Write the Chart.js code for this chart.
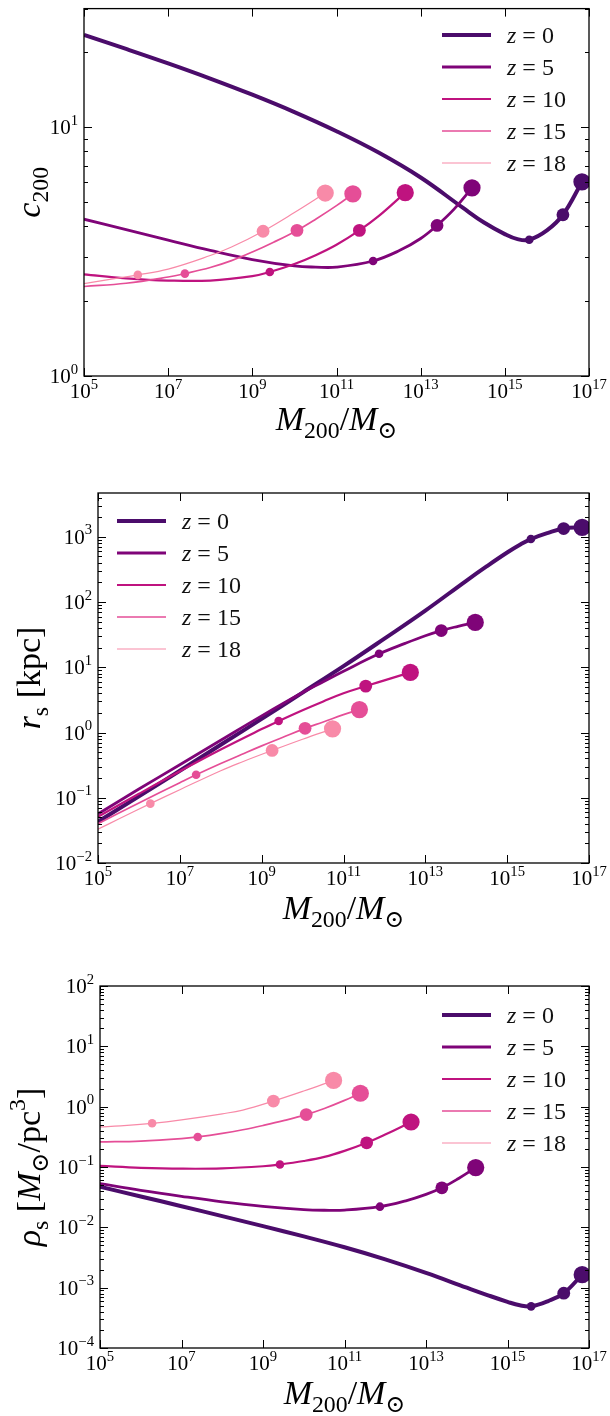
<!DOCTYPE html>
<html>
<head>
<meta charset="utf-8">
<script src="https://cdn.jsdelivr.net/npm/chart.js@4.4.1/dist/chart.umd.min.js"></script>
<style>
  html, body { margin: 0; padding: 0; background: #fff; }
  #wrap { position: relative; width: 610px; height: 1416px; overflow: hidden; }
  canvas { position: absolute; left: 0; }
</style>
</head>
<body>
<div id="wrap">
  <canvas id="cChart" width="610" height="472" style="top:0"></canvas>
  <canvas id="rsChart" width="610" height="472" style="top:472px"></canvas>
  <canvas id="rhoChart" width="610" height="472" style="top:944px"></canvas>
</div>
<script>
// ---- data ----
const redshifts = [0, 5, 10, 15, 18];

// halo mass M200 [M_sun] along each curve
const mass_z0 = [1e5, 1e6, 1e7, 1e8, 1e9, 1e10, 1e11, 1e12, 1e13, 1e14, 3.2e14, 1e15, 2e15, 3.8e15, 1e16, 2.4e16, 6.8e16];
const mass_z5 = [1e5, 1e6, 1e7, 1e8, 1e9, 1e10, 3.2e10, 1e11, 7.4e11, 3.2e12, 1e13, 2.45e13, 6.3e13, 1.66e14];
const mass_z10 = [1e5, 1e6, 1e7, 1e8, 1e9, 2.6e9, 1e10, 3.2e10, 1e11, 3.5e11, 1e12, 4.3e12];
const mass_z15 = [1e5, 1e6, 1e7, 2.5e7, 1e8, 3.2e8, 1e9, 3.2e9, 1.15e10, 3.2e10, 1e11, 2.45e11];
const mass_z18 = [1e5, 3.2e5, 1.9e6, 1e7, 1e8, 3.2e8, 1.8e9, 1e10, 5.4e10];

// masses carrying the small / medium / large dots
const markers_z0 = [3.8e15, 2.4e16, 6.8e16];
const markers_z5 = [7.4e11, 2.45e13, 1.66e14];
const markers_z10 = [2.6e9, 3.5e11, 4.3e12];
const markers_z15 = [2.5e7, 1.15e10, 2.45e11];
const markers_z18 = [1.9e6, 1.8e9, 5.4e10];

// concentration c200
const c_z0 = [23.5, 20.65, 18.07, 15.7, 13.52, 11.51, 9.64, 7.91, 6.28, 4.75, 4.14, 3.72, 3.55, 3.53, 3.85, 4.45, 6.03];
const c_z5 = [4.27, 3.88, 3.52, 3.2, 2.94, 2.77, 2.74, 2.74, 2.9, 3.2, 3.57, 4.03, 4.7, 5.71];
const c_z10 = [2.56, 2.47, 2.42, 2.42, 2.52, 2.62, 2.82, 3.06, 3.37, 3.85, 4.39, 5.46];
const c_z15 = [2.29, 2.36, 2.5, 2.58, 2.73, 2.91, 3.15, 3.45, 3.85, 4.27, 4.84, 5.4];
const c_z18 = [2.35, 2.43, 2.55, 2.69, 3.05, 3.3, 3.82, 4.54, 5.44];

// scale radius r_s [kpc]
const rs_z0 = [0.043, 0.105, 0.26, 0.65, 1.62, 4.1, 10.4, 27.5, 74, 212, 355, 575, 750, 925, 1150, 1340, 1400];
const rs_z5 = [0.0565, 0.136, 0.32, 0.76, 1.8, 4.1, 6.0, 8.7, 16.1, 23.3, 30.5, 36.6, 42.5, 48.8];
const rs_z10 = [0.051, 0.115, 0.255, 0.55, 1.13, 1.5, 2.2, 3.0, 4.0, 5.15, 6.3, 8.35];
const rs_z15 = [0.04, 0.083, 0.17, 0.225, 0.335, 0.46, 0.625, 0.84, 1.16, 1.45, 1.88, 2.25];
const rs_z18 = [0.033, 0.0472, 0.0813, 0.133, 0.26, 0.351, 0.531, 0.79, 1.14];

// scale density rho_s [M_sun / pc^3]
const rho_z0 = [0.047, 0.0325, 0.0224, 0.01535, 0.01047, 0.00708, 0.00468, 0.00295, 0.00176, 0.001, 0.000755, 0.000582, 0.00051, 0.00049, 0.0006, 0.00081, 0.00164];
const rho_z5 = [0.053, 0.0411, 0.0327, 0.0265, 0.0223, 0.0197, 0.0192, 0.0193, 0.022, 0.0275, 0.0351, 0.0452, 0.0646, 0.0977];
const rho_z10 = [0.104, 0.097, 0.0938, 0.0948, 0.1028, 0.11, 0.1256, 0.1469, 0.185, 0.252, 0.345, 0.557];
const rho_z15 = [0.26, 0.269, 0.295, 0.315, 0.361, 0.415, 0.488, 0.586, 0.739, 0.933, 1.27, 1.67];
const rho_z18 = [0.463, 0.48, 0.53, 0.605, 0.762, 0.879, 1.24, 1.82, 2.72];

// tick label exponents
const xTickExp = [5, 7, 9, 11, 13, 15, 17];
const cTickExp = [0, 1];
const rsTickExp = [-2, -1, 0, 1, 2, 3];
const rhoTickExp = [-4, -3, -2, -1, 0, 1, 2];

// ---- styling ----
const colors = ['#4b0c6b', '#7f0478', '#bf137f', '#e54e97', '#f88aa8'];
const lineWidths = [4, 2.8, 2.2, 1.7, 1.2];
const dotRadius = [4.3, 6.4, 8.6];
const FONT = '"Liberation Serif", "DejaVu Serif", serif';

const seriesMass = [mass_z0, mass_z5, mass_z10, mass_z15, mass_z18];
const seriesMarkers = [markers_z0, markers_z5, markers_z10, markers_z15, markers_z18];

function makeDatasets(valueLists) {
  return valueLists.map((vals, i) => ({
    label: 'z = ' + redshifts[i],
    data: seriesMass[i].map((m, j) => ({ x: m, y: vals[j] })),
    borderColor: colors[i],
    backgroundColor: colors[i],
    borderWidth: lineWidths[i],
    tension: 0.4,
    fill: false,
    pointRadius: ctx => {
      const k = ctx.raw ? seriesMarkers[i].indexOf(ctx.raw.x) : -1;
      return k < 0 ? 0 : dotRadius[k];
    },
    pointBorderWidth: 0,
    pointBorderColor: colors[i],
    pointBackgroundColor: colors[i],
    order: 4 - i,
    clip: 0
  }));
}

// mixed text: segments with italic / sub / sup
function drawRich(ctx, segs, x, y, size, align) {
  const fontOf = s => (s.it ? 'italic ' : '') + ((s.sub || s.sup) ? size * 0.7 : size) + 'px ' + FONT;
  let w = 0;
  segs.forEach(s => { ctx.font = fontOf(s); w += ctx.measureText(s.t).width; });
  let cx = align === 'center' ? x - w / 2 : align === 'right' ? x - w : x;
  ctx.textAlign = 'left';
  ctx.textBaseline = 'alphabetic';
  segs.forEach(s => {
    ctx.font = fontOf(s);
    const dy = s.sub ? size * 0.24 : s.sup ? -size * 0.45 : 0;
    ctx.fillText(s.t, cx, y + dy);
    cx += ctx.measureText(s.t).width;
  });
}

const expText = e => e < 0 ? '\u2212' + (-e) : String(e);

const decor = {
  id: 'decor',
  afterDatasetsDraw(chart, args, o) {
    const { ctx, chartArea: a } = chart;
    const x = chart.scales.x, y = chart.scales.y;
    ctx.save();
    ctx.fillStyle = '#000';
    ctx.strokeStyle = '#000';

    // inward ticks on all four sides
    ctx.lineWidth = 1;
    ctx.beginPath();
    xTickExp.forEach(e => {
      const px = Math.round(x.getPixelForValue(Math.pow(10, e))) + 0.5;
      ctx.moveTo(px, a.bottom); ctx.lineTo(px, a.bottom - 8);
      ctx.moveTo(px, a.top); ctx.lineTo(px, a.top + 8);
    });
    const lo = Math.floor(Math.log10(y.min)), hi = Math.ceil(Math.log10(y.max));
    for (let n = lo; n <= hi; n++) {
      for (let k = 1; k <= 9; k++) {
        const v = k * Math.pow(10, n);
        if (v < y.min * 0.999 || v > y.max * 1.001) continue;
        const py = Math.round(y.getPixelForValue(v)) + 0.5;
        const len = k === 1 ? 8 : 4;
        ctx.moveTo(a.left, py); ctx.lineTo(a.left + len, py);
        ctx.moveTo(a.right, py); ctx.lineTo(a.right - len, py);
      }
    }
    ctx.stroke();

    // frame
    ctx.lineWidth = 1.3;
    ctx.strokeRect(a.left, a.top, a.right - a.left, a.bottom - a.top);

    // tick labels
    xTickExp.forEach(e => {
      const px = x.getPixelForValue(Math.pow(10, e));
      drawRich(ctx, [{ t: '10' }, { t: expText(e), sup: true }], px, a.bottom + 22, 21, 'center');
    });
    o.yTickExp.forEach(e => {
      const py = y.getPixelForValue(Math.pow(10, e));
      drawRich(ctx, [{ t: '10' }, { t: expText(e), sup: true }], a.left - 6, py + 7, 21, 'right');
    });

    // axis titles
    drawRich(ctx, [{ t: 'M', it: true }, { t: '200', sub: true }, { t: '/' }, { t: 'M', it: true }, { t: '\u2299', sub: true }],
      (a.left + a.right) / 2, a.bottom + o.xTitleDy, 34, 'center');
    ctx.save();
    ctx.translate(40, (a.top + a.bottom) / 2);
    ctx.rotate(-Math.PI / 2);
    drawRich(ctx, o.yTitle, 0, 0, 34, 'center');
    ctx.restore();

    // legend
    redshifts.forEach((z, i) => {
      const ly = o.legendY + i * 32;
      ctx.strokeStyle = colors[i];
      ctx.lineWidth = lineWidths[i];
      ctx.beginPath();
      ctx.moveTo(o.legendX, ly); ctx.lineTo(o.legendX + 49, ly);
      ctx.stroke();
      ctx.fillStyle = '#111';
      drawRich(ctx, [{ t: 'z', it: true }, { t: ' = ' + z }], o.legendX + 65, ly + 7.5, 24, 'left');
    });
    ctx.restore();
  }
};

function makeChart(id, valueLists, yMin, yMax, pad, extra) {
  return new Chart(document.getElementById(id), {
    type: 'line',
    data: { datasets: makeDatasets(valueLists) },
    options: {
      responsive: false,
      animation: false,
      events: [],
      layout: { padding: pad },
      plugins: { legend: { display: false }, tooltip: { enabled: false }, decor: extra },
      scales: {
        x: { type: 'logarithmic', min: 1e5, max: 1e17, display: false },
        y: { type: 'logarithmic', min: yMin, max: yMax, display: false }
      }
    },
    plugins: [decor]
  });
}

makeChart('cChart', [c_z0, c_z5, c_z10, c_z15, c_z18], 1, 30,
  { left: 84, right: 21, top: 6, bottom: 96 },
  { yTickExp: cTickExp, xTitleDy: 54, legendX: 442, legendY: 35,
    yTitle: [{ t: 'c', it: true }, { t: '200', sub: true }] });

makeChart('rsChart', [rs_z0, rs_z5, rs_z10, rs_z15, rs_z18], 0.01, 4700,
  { left: 98, right: 21, top: 21, bottom: 81 },
  { yTickExp: rsTickExp, xTitleDy: 56, legendX: 117, legendY: 49,
    yTitle: [{ t: 'r', it: true }, { t: 's', sub: true }, { t: ' [kpc]' }] });

makeChart('rhoChart', [rho_z0, rho_z5, rho_z10, rho_z15, rho_z18], 1e-4, 100,
  { left: 100, right: 21, top: 42, bottom: 68 },
  { yTickExp: rhoTickExp, xTitleDy: 56, legendX: 442, legendY: 71,
    yTitle: [{ t: '\u03c1', it: true }, { t: 's', sub: true }, { t: ' [' }, { t: 'M', it: true }, { t: '\u2299', sub: true }, { t: '/pc' }, { t: '3', sup: true }, { t: ']' }] });
</script>
</body>
</html>
